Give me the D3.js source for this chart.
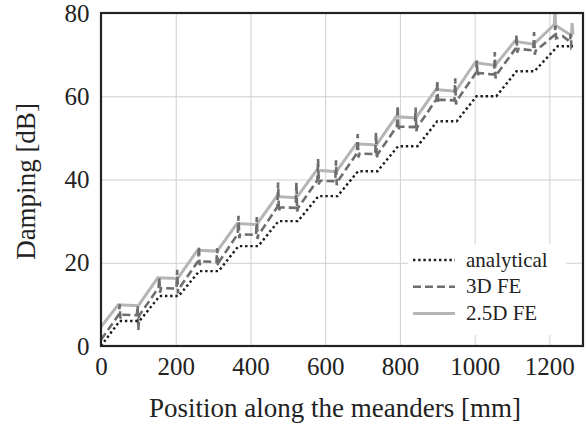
<!DOCTYPE html>
<html>
<head>
<meta charset="utf-8">
<script src="https://cdn.jsdelivr.net/npm/d3@7"></script>
<style>
  body { margin: 0; background: #fff; }
</style>
</head>
<body>
<div id="damping"></div>
<script>
// axis ticks and limits
const xTicks = [0, 200, 400, 600, 800, 1000, 1200];
const yTicks = [0, 20, 40, 60, 80];
const xDomain = [0, 1290];
const yDomain = [0, 80];
const seriesNames = ["analytical", "3D FE", "2.5D FE"];

// [position mm, damping dB]
const analytical = [[0,0],[50,6],[103,6],[157,12],[208,12],[263,18],[315,18],[368,24],[421,24],
  [475,30],[527,30],[582,36],[633,36],[688,42],[740,42],[795,48],[847,48],[900,54],[952,54],
  [1005,60],[1058,60],[1112,66],[1160,66],[1222,72],[1263,72]];

const fe3d = [[0,1.5],
  [48,7.6],[50,10.0],[52,6.6],[55,7.5],[96,7.4],[98,9.6],[100,3.8],[102,7.3],
  [154,14.0],[156,16.5],[158,12.8],[161,13.9],[202,13.8],[204,18.3],[206,12.6],[208,13.7],
  [260,20.4],[262,24.0],[264,19.4],[267,20.3],[309,20.2],[311,23.5],[313,19.2],[315,20.1],
  [366,26.9],[368,31.3],[370,25.9],[373,26.8],[415,26.7],[417,31.0],[419,25.7],[421,26.6],
  [472,33.4],[474,39.3],[476,32.3],[479,33.3],[521,33.2],[523,39.3],[525,32.3],[527,33.1],
  [579,39.8],[581,44.9],[583,38.8],[586,39.7],[627,39.6],[629,44.6],[631,38.6],[633,39.5],
  [685,46.3],[687,50.9],[689,45.3],[692,46.2],[734,46.1],[736,51.3],[738,45.0],[740,46.0],
  [792,52.8],[794,57.8],[796,51.8],[799,52.7],[840,52.6],[842,57.3],[844,51.6],[846,52.5],
  [898,59.3],[900,63.8],[902,58.3],[905,59.2],[946,59.0],[948,64.3],[950,58.0],[952,58.9],
  [1004,65.7],[1006,68.6],[1008,64.8],[1011,65.6],[1052,65.2],[1054,70.6],[1056,64.3],[1058,65.1],
  [1110,71.5],[1112,74.8],[1114,70.5],[1117,71.4],[1157,71.0],[1159,75.4],[1161,70.0],[1163,70.9],
  [1214,74.7],[1216,77.0],[1218,73.9],[1236,74.4],[1255,73.1],[1257,75.0],[1259,72.0],[1263,72.7]];

const fe25d = [[0,4.6],[46,9.9],[100,9.7],[152,16.4],[205,16.2],[258,23.0],[311,22.8],[364,29.4],
  [417,29.2],[470,35.9],[523,35.6],[577,42.2],[630,41.9],[683,48.6],[737,48.3],[790,55.1],
  [843,54.8],[896,61.6],[949,61.2],[1001,68.1],[1055,67.4],[1107,73.2],[1158,72.5],
  [1213,77.2],[1215,80.6],[1217,77.0],[1259,74.6],[1261,77.6],[1263,74.8]];

const serifFont = '"Liberation Serif"';

// set the dimensions and margins of the graph
const margin = {top: 13, right: 3, bottom: 81, left: 101};
const width = 586 - margin.left - margin.right;
const height = 427 - margin.top - margin.bottom;

const svg = d3.select("#damping")
  .append("svg")
    .attr("width", 586)
    .attr("height", 427)
  .append("g")
    .attr("transform", `translate(${margin.left},${margin.top})`);

const x = d3.scaleLinear().domain(xDomain).range([0, width]);
const y = d3.scaleLinear().domain(yDomain).range([height, 0]);

// grid
svg.append("g")
  .attr("transform", `translate(0,${height})`)
  .call(d3.axisBottom(x).tickValues(xTicks).tickSize(-height).tickFormat(""))
  .call(g => g.select(".domain").remove())
  .call(g => g.selectAll("line").attr("stroke", "#d0d0d0").attr("stroke-width", 1));

svg.append("g")
  .call(d3.axisLeft(y).tickValues(yTicks).tickSize(-width).tickFormat(""))
  .call(g => g.select(".domain").remove())
  .call(g => g.selectAll("line").attr("stroke", "#d0d0d0").attr("stroke-width", 1));

// tick labels
svg.append("g")
  .attr("transform", `translate(0,${height})`)
  .call(d3.axisBottom(x).tickValues(xTicks).tickSize(0).tickPadding(11).tickFormat(d3.format("d")))
  .call(g => g.select(".domain").remove())
  .selectAll("text")
    .style("font-family", serifFont)
    .style("font-size", "25px")
    .style("fill", "#222");

svg.append("g")
  .call(d3.axisLeft(y).tickValues(yTicks).tickSize(0).tickPadding(11.5).tickFormat(d3.format("d")))
  .call(g => g.select(".domain").remove())
  .selectAll("text")
    .style("font-family", serifFont)
    .style("font-size", "25px")
    .style("fill", "#222");

// lines
svg.append("clipPath").attr("id", "plotclip")
  .append("rect").attr("width", width).attr("height", height);

const line = d3.line().x(d => x(d[0])).y(d => y(d[1]));

const styles = [
  {data: fe25d, color: "#b5b5b5", w: 3, dash: null},
  {data: fe3d, color: "#6e6e6e", w: 2.6, dash: "8,4"},
  {data: analytical, color: "#1c1c1c", w: 2.4, dash: "2.4,2.8"}
];

svg.append("g").attr("clip-path", "url(#plotclip)")
  .selectAll("path")
  .data(styles)
  .join("path")
    .attr("d", d => line(d.data))
    .attr("fill", "none")
    .attr("stroke", d => d.color)
    .attr("stroke-width", d => d.w)
    .attr("stroke-dasharray", d => d.dash);

// frame
svg.append("rect")
  .attr("width", width)
  .attr("height", height)
  .attr("fill", "none")
  .attr("stroke", "#222")
  .attr("stroke-width", 2.2);

// legend
const legend = svg.append("g");
legend.append("rect")
  .attr("x", 307).attr("y", 231)
  .attr("width", 158).attr("height", 91)
  .attr("fill", "#fff");

const legendStyles = [styles[2], styles[1], styles[0]];
seriesNames.forEach((name, i) => {
  const ly = 247 + i * 26.7;
  legend.append("line")
    .attr("x1", 312).attr("x2", 354)
    .attr("y1", ly).attr("y2", ly)
    .attr("stroke", legendStyles[i].color)
    .attr("stroke-width", legendStyles[i].w)
    .attr("stroke-dasharray", legendStyles[i].dash);
  legend.append("text")
    .attr("x", 365)
    .attr("y", ly + 6.5)
    .style("font-family", serifFont)
    .style("font-size", "21px")
    .style("fill", "#222")
    .text(name);
});

// axis titles
svg.append("text")
  .attr("x", width / 2 - 7)
  .attr("y", height + 71)
  .attr("text-anchor", "middle")
  .style("font-family", serifFont)
  .style("font-size", "27px")
  .style("fill", "#222")
  .text("Position along the meanders [mm]");

svg.append("text")
  .attr("transform", `translate(-66,${height / 2 + 2})rotate(-90)`)
  .attr("text-anchor", "middle")
  .style("font-family", serifFont)
  .style("font-size", "27px")
  .style("fill", "#222")
  .text("Damping [dB]");
</script>
</body>
</html>
